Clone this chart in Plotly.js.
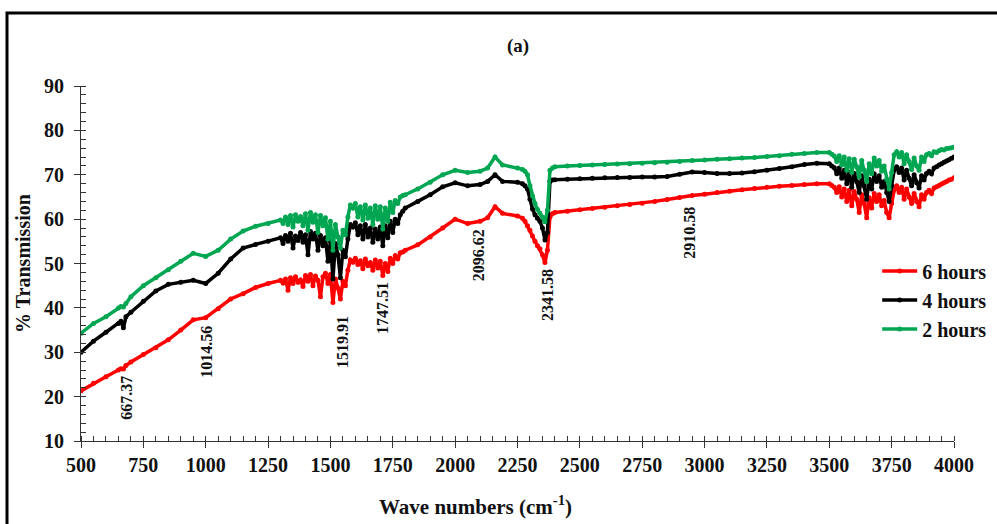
<!DOCTYPE html>
<html>
<head>
<meta charset="utf-8">
<script src="https://cdn.plot.ly/plotly-3.0.1.min.js"></script>
<style>html,body{margin:0;padding:0;background:#fff;}#chart{width:997px;height:524px;}</style>
</head>
<body>
<div id="chart"></div>
<script>
// Wavenumbers (cm-1)
const waveNumbers = [
  500, 550, 600, 650, 660, 670, 680, 700, 750, 800, 850, 900, 950, 1000, 1050, 1100, 1150, 1200, 1250,
  1300, 1310, 1320, 1330, 1340, 1350, 1360, 1370, 1380, 1390, 1400, 1410, 1420, 1430, 1440, 1450, 1460, 1470, 1480, 1490,
  1500, 1510, 1520, 1530, 1540, 1550, 1560, 1570, 1580, 1590, 1600, 1610, 1620, 1630, 1640, 1650, 1660, 1670, 1680, 1690,
  1700, 1710, 1720, 1730, 1740, 1750, 1760, 1770, 1780, 1790,
  1800, 1850, 1900, 1950, 2000, 2050, 2100, 2130, 2160, 2190, 2250,
  2270, 2280, 2290, 2300, 2310, 2320, 2330, 2340, 2350, 2360, 2370, 2380, 2390, 2400,
  2450, 2500, 2550, 2600, 2650, 2700, 2750, 2800, 2850, 2900, 2950, 3000, 3050, 3100, 3150, 3200, 3250, 3300, 3350, 3400, 3450,
  3500, 3510, 3520, 3530, 3540, 3550, 3560, 3570, 3580, 3590, 3600, 3610, 3620, 3630, 3640, 3650, 3660, 3670, 3680, 3690,
  3700, 3710, 3720, 3730, 3740, 3750, 3760, 3770, 3780, 3790, 3800, 3810, 3820, 3830, 3840, 3850, 3860, 3870, 3880, 3890,
  3900, 3910, 3920, 3930, 3940, 3950, 3960, 3970, 3980, 3990, 4000
];

// % Transmission, 6 hours
const hours6 = [
  21.3, 23.0, 24.5, 26.0, 26.3, 26.2, 27.0, 27.8, 29.5, 31.0, 32.8, 35.0, 37.3, 37.8, 39.8, 42.0, 43.2, 44.6, 45.5,
  46.2, 45.6, 46.5, 44.0, 46.8, 45.5, 47.0, 45.8, 46.3, 44.8, 47.3, 46.0, 47.5, 45.0, 47.2, 46.2, 42.5, 47.0, 47.8, 45.5,
  47.5, 41.2, 46.5, 44.5, 42.0, 46.0, 45.0, 48.5, 50.8, 50.3, 51.2, 49.8, 50.6, 48.8, 51.0, 49.5, 50.2, 48.5, 50.8, 49.0,
  50.5, 47.3, 50.0, 48.2, 51.2, 50.0, 51.8, 51.0, 52.4, 52.6,
  53.0, 54.2, 56.0, 58.0, 60.0, 59.0, 59.5, 60.3, 62.8, 61.3, 60.7,
  60.2, 59.5, 58.5, 57.5, 56.2, 55.0, 54.0, 53.3, 52.0, 50.2, 53.0, 60.5, 61.2, 61.5,
  61.8, 62.1, 62.4, 62.7, 63.0, 63.3, 63.6, 64.0, 64.4, 64.9, 65.3, 65.6, 66.0, 66.3, 66.6, 66.9, 67.2, 67.4, 67.6, 67.8, 68.0,
  68.0, 67.6, 67.2, 66.0, 67.3, 65.0, 66.8, 64.0, 66.5, 63.0, 66.2, 64.5, 61.5, 65.5, 63.5, 60.3, 64.8, 62.5, 65.8, 64.0,
  65.5, 63.0, 64.2, 61.5, 60.3, 63.5, 66.5, 67.5, 66.0, 67.2, 64.5, 66.8, 65.0, 63.5, 65.8, 64.0, 62.8, 65.5, 64.5, 66.0,
  66.5, 65.8, 67.0, 67.3, 67.6, 67.9, 68.2, 68.5, 68.8, 69.0, 69.3
];

// % Transmission, 4 hours
const hours4 = [
  30.0, 32.5, 34.5, 36.5, 37.0, 35.5, 38.0, 39.0, 41.5, 43.8, 45.3, 45.8, 46.2, 45.5, 47.8, 51.0, 53.5, 54.3, 55.0,
  55.8, 54.5, 56.3, 55.0, 56.8, 53.5, 56.2, 55.2, 57.0, 54.8, 56.5, 52.0, 57.2, 55.5, 56.8, 53.0, 56.3, 54.0, 55.8, 50.5,
  55.0, 46.5, 54.5, 52.0, 46.8, 53.0, 51.5, 55.5, 58.8, 58.2, 59.2, 56.5, 58.5, 55.5, 58.8, 56.0, 58.0, 54.8, 57.8, 55.5,
  58.2, 54.0, 58.5, 55.8, 59.5, 57.0, 60.0, 59.0, 61.0, 61.8,
  62.5, 64.0, 65.5, 67.3, 68.2, 67.5, 67.8, 68.5, 70.0, 68.5, 68.3,
  68.0, 67.5, 66.8, 64.5, 62.3, 61.0, 60.2, 59.5, 58.0, 55.3, 57.0, 68.5, 68.8, 68.9,
  69.0, 69.1, 69.2, 69.3, 69.4, 69.4, 69.5, 69.5, 69.6, 70.1, 70.6, 70.5, 70.3, 70.3, 70.4, 70.7, 71.0, 71.4, 71.8, 72.3, 72.6,
  72.5, 72.0, 71.6, 70.2, 71.5, 69.2, 71.0, 68.0, 70.5, 67.2, 70.3, 68.5, 66.0, 69.8, 67.5, 64.5, 69.0, 66.8, 70.2, 68.5,
  69.8, 67.2, 68.5, 66.0, 64.0, 67.5, 71.0, 71.8, 70.5, 71.5, 68.8, 71.0, 69.2, 67.5, 70.0, 68.2, 67.0, 69.8, 68.8, 70.3,
  70.8, 70.2, 71.5, 71.8, 72.2, 72.5, 72.8, 73.1, 73.4, 73.7, 74.0
];

// % Transmission, 2 hours
const hours2 = [
  34.3, 36.5, 38.0, 40.0, 40.3, 40.2, 41.0, 42.5, 45.0, 46.8, 48.6, 50.5, 52.3, 51.6, 53.0, 55.5, 57.3, 58.4, 59.0,
  59.8, 59.0, 60.5, 58.8, 60.8, 58.2, 61.0, 59.5, 60.6, 58.5, 61.2, 57.5, 61.5, 59.3, 61.0, 57.0, 60.8, 58.5, 60.3, 55.5,
  59.5, 53.0, 58.8, 56.0, 53.5, 57.5, 56.5, 60.5, 63.2, 62.5, 63.5, 60.5, 62.8, 59.8, 63.2, 60.2, 62.5, 58.8, 63.0, 60.0,
  62.8, 57.8, 62.5, 59.5, 63.8, 61.5, 64.2, 63.5, 65.0, 65.3,
  65.5, 66.8, 68.3, 70.0, 71.0, 70.5, 70.8, 71.5, 74.0, 72.2, 71.5,
  71.2, 70.8, 70.0, 67.5, 65.2, 63.5, 62.2, 61.3, 60.5, 59.4, 62.0, 71.0, 71.5, 71.8,
  72.0, 72.1, 72.2, 72.3, 72.4, 72.5, 72.6, 72.7, 72.8, 73.0, 73.2, 73.3, 73.5, 73.6, 73.8, 73.9, 74.1, 74.3, 74.6, 74.8, 75.0,
  75.0, 74.6, 74.2, 73.0, 74.3, 72.2, 74.0, 71.0, 73.6, 70.5, 73.5, 71.8, 69.5, 73.2, 71.0, 68.5, 72.5, 70.2, 73.8, 72.0,
  73.2, 70.8, 72.0, 69.0, 66.8, 70.5, 74.5, 75.2, 74.0, 75.0, 72.5, 74.5, 73.0, 71.2, 73.8, 72.0, 71.0, 74.0, 73.0, 74.5,
  74.8, 74.3, 75.2, 75.0, 75.4, 75.7, 75.6, 75.9, 76.0, 76.1, 76.2
];

const seriesNames = ['6 hours', '4 hours', '2 hours'];
const seriesColors = ['#ff0000', '#000000', '#00a651'];

// Peak labels
const peakLabels = ['667.37', '1014.56', '1519.91', '1747.51', '2096.62', '2341.58', '2910.58'];
const peakX = [684, 1005, 1546, 1711, 2092, 2368, 2941];
const peakY = [19.7, 30.1, 32.3, 40.0, 51.9, 42.9, 56.9];

const xTicks = [500, 750, 1000, 1250, 1500, 1750, 2000, 2250, 2500, 2750, 3000, 3250, 3500, 3750, 4000];
const yTicks = [10, 20, 30, 40, 50, 60, 70, 80, 90];

const serif = 'Liberation Serif, Times New Roman, serif';
const ys = [hours6, hours4, hours2];

const traces = ys.map((y, i) => ({
  type: 'scatter',
  mode: 'lines+markers',
  x: waveNumbers,
  y: y,
  name: seriesNames[i],
  legendgroup: 'g' + i,
  line: {color: seriesColors[i], width: 3.5},
  marker: {color: seriesColors[i], size: 5},
  hoverinfo: 'x+y+name'
}));

const annotations = peakLabels.map((t, i) => ({
  x: peakX[i], y: peakY[i], xref: 'x', yref: 'y',
  text: t, textangle: -90, showarrow: false,
  font: {family: serif, size: 16, color: '#111', weight: 'bold'}
}));
annotations.push({
  xref: 'paper', yref: 'paper', x: (475 - 81) / 873, y: (441 - 505) / 355,
  xanchor: 'center', yanchor: 'middle', showarrow: false,
  text: 'Wave numbers (cm<sup>-1</sup>)',
  font: {family: serif, size: 21, color: '#111', weight: 'bold'}
});

const axisCommon = {
  showgrid: false, zeroline: false,
  showline: true, linecolor: '#333', linewidth: 1,
  ticks: 'outside', ticklen: 6, tickwidth: 1, tickcolor: '#333',
  tickfont: {family: serif, size: 20, color: '#111', weight: 'bold'}
};

const layout = {
  width: 997, height: 524,
  margin: {l: 81, r: 43, t: 86, b: 83, autoexpand: false},
  paper_bgcolor: '#fff', plot_bgcolor: '#fff',
  font: {family: serif, color: '#111'},
  title: {
    text: '(a)', xref: 'container', yref: 'container',
    x: 518 / 997, xanchor: 'center', y: 1 - 45 / 524, yanchor: 'middle',
    font: {family: serif, size: 19, color: '#111', weight: 'bold'}
  },
  xaxis: Object.assign({}, axisCommon, {
    range: [500, 4000], tickmode: 'array', tickvals: xTicks, automargin: false,
    minor: {dtick: 50, ticks: 'inside', ticklen: 5, tickcolor: '#333', tickwidth: 1}
  }),
  yaxis: Object.assign({}, axisCommon, {
    range: [10, 90], tickmode: 'array', tickvals: yTicks, automargin: false,
    ticklabelstandoff: 6,
    minor: {dtick: 2, ticks: 'inside', ticklen: 5, tickcolor: '#333', tickwidth: 1},
    title: {text: '% Transmission', standoff: 8,
      font: {family: serif, size: 20, color: '#111', weight: 'bold'}}
  }),
  xaxis2: {
    overlaying: 'x', anchor: 'y', side: 'bottom', range: [500, 4000],
    tickmode: 'array', tickvals: xTicks, ticks: 'inside', ticklen: 6, tickcolor: '#333',
    showticklabels: false, showgrid: false, zeroline: false, showline: false
  },
  yaxis2: {
    overlaying: 'y', anchor: 'x', side: 'left', range: [10, 90],
    tickmode: 'array', tickvals: yTicks, ticks: 'inside', ticklen: 6, tickcolor: '#333',
    showticklabels: false, showgrid: false, zeroline: false, showline: false
  },
  legend: {
    x: 0.912, y: 0.534, xanchor: 'left', yanchor: 'top',
    bgcolor: 'rgba(0,0,0,0)', tracegroupgap: 0, itemwidth: 35,
    font: {family: serif, size: 20, color: '#111', weight: 'bold'}
  },
  showlegend: true,
  annotations: annotations,
  shapes: [{
    type: 'rect', xref: 'paper', yref: 'paper',
    x0: (7 - 81) / 873, x1: (1005 - 81) / 873,
    y0: (441 - 530) / 355, y1: (441 - 13) / 355,
    line: {color: '#000', width: 3}, fillcolor: 'rgba(0,0,0,0)', layer: 'below'
  }]
};

Plotly.newPlot('chart', traces, layout, {displayModeBar: false, staticPlot: true});
</script>
</body>
</html>
